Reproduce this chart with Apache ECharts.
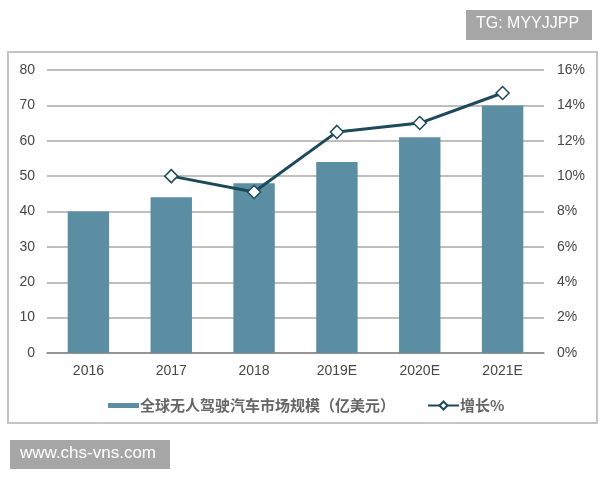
<!DOCTYPE html>
<html><head><meta charset="utf-8">
<script src="https://cdn.jsdelivr.net/npm/echarts@6/dist/echarts.min.js"></script>
<style>html,body{margin:0;padding:0;background:#fff}#c{width:600px;height:480px}</style>
</head><body><div id="c"></div>
<script>
const categories = ['2016','2017','2018','2019E','2020E','2021E'];
const marketSize = [40, 44, 48, 54, 61, 70];
const growth = [null, 10, 9.1, 12.5, 13, 14.7];
const leftTicks = [0, 80, 10];
const rightTicks = [0, 16, 2];

const chart = echarts.init(document.getElementById('c'));
const labelFont = {color:'#474747', fontSize:14, fontFamily:'Liberation Sans, Arial, sans-serif'};
chart.setOption({
  animation:false,
  graphic:[
    {type:'rect', shape:{x:8,y:52,width:589,height:371}, style:{fill:'none', stroke:'#c4c4c4', lineWidth:2}},
    {type:'rect', shape:{x:466,y:10,width:126,height:30}, style:{fill:'#a6a6a6'}},
    {type:'text', left:476, top:16, style:{text:'TG: MYYJJPP', fill:'#fff', font:'16px Liberation Sans, Arial, sans-serif'}},
    {type:'rect', shape:{x:10,y:440,width:160,height:29}, style:{fill:'#a6a6a6'}},
    {type:'text', left:20, top:445, style:{text:'www.chs-vns.com', fill:'#fff', font:'17px Liberation Sans, Arial, sans-serif'}}
  ],
  grid:{left:47, right:56, top:70, bottom:127},
  legend:{
    left:103, top:393, itemGap:32, itemWidth:31, itemHeight:10,
    textStyle:{color:'#666', fontSize:15, fontWeight:'bold', fontFamily:'Noto Sans CJK SC, sans-serif', padding:[0,0,0,-4]},
    data:[
      {name:'全球无人驾驶汽车市场规模（亿美元）', icon:'path://M0,3L31,3L31,8L0,8Z', itemStyle:{color:'#5b8ea3'}},
      {name:'增长%'}
    ]
  },
  xAxis:{type:'category', data:categories,
    axisLine:{lineStyle:{color:'#888', width:1.5}}, axisTick:{show:false},
    axisLabel:Object.assign({margin:11}, labelFont)},
  yAxis:[
    {type:'value', min:leftTicks[0], max:leftTicks[1], interval:leftTicks[2],
     axisLine:{show:false}, axisTick:{show:false},
     splitLine:{lineStyle:{color:'#a8a8a8', width:1.5}},
     axisLabel:Object.assign({margin:12}, labelFont)},
    {type:'value', min:rightTicks[0], max:rightTicks[1], interval:rightTicks[2],
     axisLine:{show:false}, axisTick:{show:false}, splitLine:{show:false},
     axisLabel:Object.assign({margin:13, formatter:'{value}%'}, labelFont)}
  ],
  series:[
    {name:'全球无人驾驶汽车市场规模（亿美元）', type:'bar', data:marketSize, barWidth:'50%',
     itemStyle:{color:'#5b8ea3'}},
    {name:'增长%', type:'line', yAxisIndex:1, data:growth, symbol:'diamond', symbolSize:13,
     lineStyle:{color:'#1c4a5a', width:3},
     itemStyle:{color:'#fff', borderColor:'#1c4a5a', borderWidth:1.5}}
  ]
});
</script></body></html>
